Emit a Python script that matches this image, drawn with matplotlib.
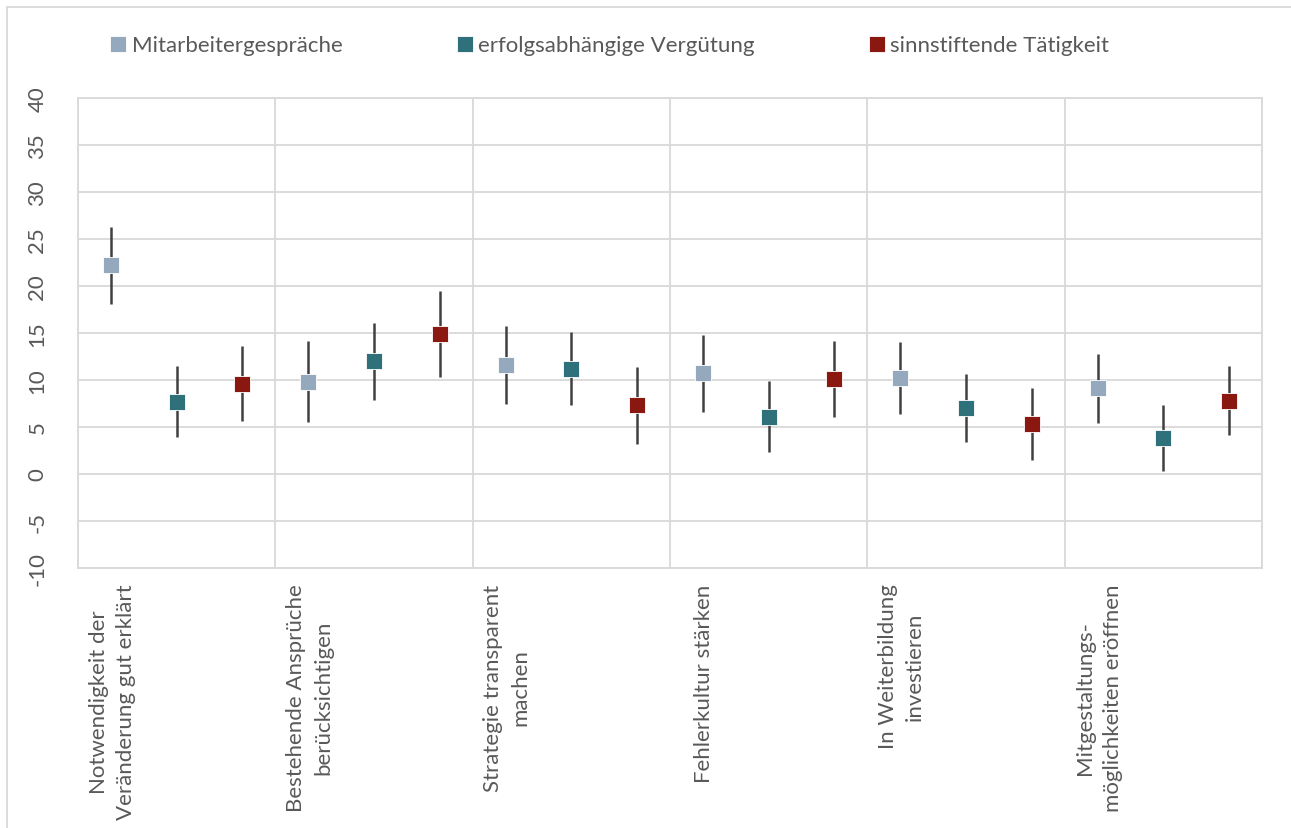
import numpy as np
import matplotlib
matplotlib.use("Agg")
import matplotlib.pyplot as plt
from matplotlib.lines import Line2D
from matplotlib.patches import Rectangle

plt.rcParams['font.family'] = ['Lato', 'DejaVu Sans']
plt.rcParams['axes.unicode_minus'] = False

categories = ["Notwendigkeit der\nVeränderung gut erklärt",
              "Bestehende Ansprüche\nberücksichtigen",
              "Strategie transparent\nmachen",
              "Fehlerkultur stärken",
              "In Weiterbildung\ninvestieren",
              "Mitgestaltungs-\nmöglichkeiten eröffnen"]
series = ["Mitarbeitergespräche", "erfolgsabhängige Vergütung", "sinnstiftende Tätigkeit"]

mitarbeiter = [22.2, 9.8, 11.6, 10.7, 10.2, 9.1]
mitarbeiter_err = [4.1, 4.3, 4.1, 4.1, 3.8, 3.7]
verguetung = [7.7, 12.0, 11.2, 6.1, 7.0, 3.8]
verguetung_err = [3.8, 4.1, 3.9, 3.8, 3.6, 3.5]
taetigkeit = [9.6, 14.9, 7.3, 10.1, 5.3, 7.8]
taetigkeit_err = [4.0, 4.6, 4.1, 4.0, 3.8, 3.7]

colors = ["#94A9BE", "#2E717B", "#8B1810"]
grid_c = "#D9D9D9"
text_c = "#595959"

fig = plt.figure(figsize=(12.91, 8.29), dpi=100)
ax = fig.add_axes([0.0604, 0.3136, 0.9171, 0.567])

n = len(categories)
values = [mitarbeiter, verguetung, taetigkeit]
errors = [mitarbeiter_err, verguetung_err, taetigkeit_err]
for s in range(3):
    x = np.arange(n) * 3 + s
    ax.errorbar(x, values[s], yerr=errors[s], fmt='s', ms=11, color=colors[s],
                mec='white', mew=0.6, ecolor='#404040', elinewidth=1.8, capsize=0,
                zorder=3)

ax.set_xlim(-0.5, 3 * n - 0.5)
ax.set_ylim(-10, 40)
ax.set_yticks(np.arange(-10, 41, 5))
ax.set_xticks(np.arange(n) * 3)
ax.set_xticklabels([])
ax.set_xticks(np.arange(n + 1) * 3 - 0.5, minor=True)
ax.grid(True, which='major', axis='y', color=grid_c, lw=1.3)
ax.grid(True, which='minor', axis='x', color=grid_c, lw=1.3)
ax.set_axisbelow(True)
ax.tick_params(which='both', length=0)
ax.tick_params(axis='y', labelsize=16, labelcolor=text_c, pad=22)
for lab in ax.get_yticklabels():
    lab.set_rotation(90)
    lab.set_va('center')
for sp in ax.spines.values():
    sp.set_color(grid_c)
    sp.set_linewidth(1.3)

for i, cat in enumerate(categories):
    ax.annotate(cat, xy=(i * 3, 0), xycoords=('data', 'axes fraction'),
                xytext=(1, -11), textcoords='offset points',
                rotation=90, ha='center', va='top', multialignment='center',
                fontsize=16, color=text_c, linespacing=1.45)

handles = [Line2D([], [], marker='s', ls='none', ms=11, color=c, mec='white', mew=0.6)
           for c in colors]
fig.legend(handles, series, loc='center left', bbox_to_anchor=(0.078, 0.944),
           ncol=3, frameon=False, fontsize=16, labelcolor=text_c,
           handlelength=0.6, handletextpad=0.3, columnspacing=5.2, borderpad=0)

fig.patches.append(Rectangle((7 / 1291, -0.01), 1.0, 1 - 8 / 829 + 0.01,
                             transform=fig.transFigure, fill=False,
                             ec=grid_c, lw=1.3))

fig.savefig("out.png", dpi=100)
